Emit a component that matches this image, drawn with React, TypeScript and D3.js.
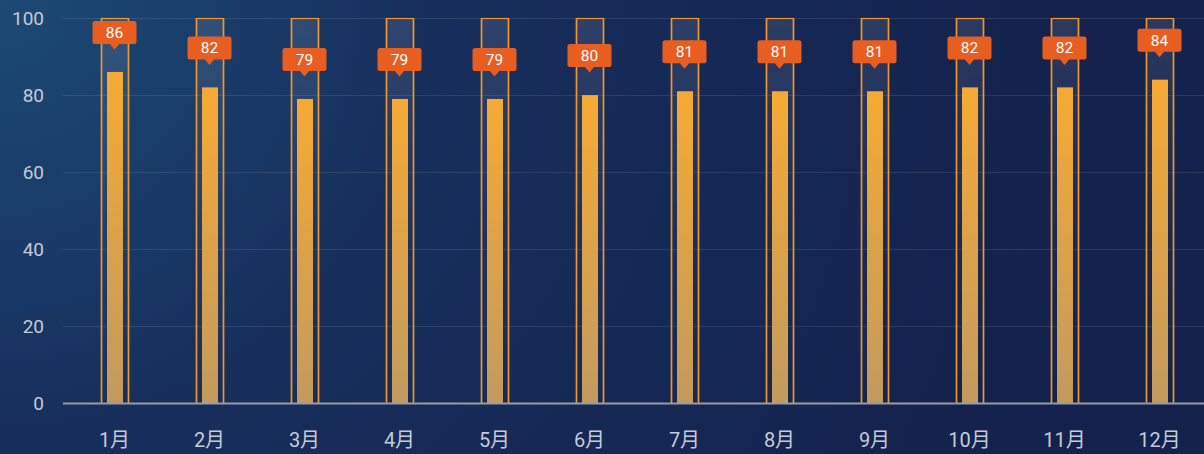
import React from "react";
import * as d3 from "d3";

const months = ["1月", "2月", "3月", "4月", "5月", "6月", "7月", "8月", "9月", "10月", "11月", "12月"];
const values = [86, 82, 79, 79, 79, 80, 81, 81, 81, 82, 82, 84];
const maxValues = [100, 100, 100, 100, 100, 100, 100, 100, 100, 100, 100, 100];
const yTicks = [0, 20, 40, 60, 80, 100];

const W = 1204;
const H = 454;

export default function App() {
  const x = d3.scaleBand<string>().domain(months).range([67, 1207]);
  const y = d3.scaleLinear().domain([0, 100]).range([403.5, 18]);
  const bw = x.bandwidth();
  const font = "Roboto, 'Noto Sans CJK SC', sans-serif";
  return (
    <svg width={W} height={H} style={{ position: "absolute", left: 0, top: 0, display: "block" }}>
      <defs>
        <radialGradient id="bg" cx="0" cy="0" r="1.2" gradientUnits="objectBoundingBox" gradientTransform="scale(1,2.65)">
          <stop offset="0" stopColor="#1c4a75" />
          <stop offset="0.3" stopColor="#172e5c" />
          <stop offset="0.7" stopColor="#14234e" />
          <stop offset="1" stopColor="#13214a" />
        </radialGradient>
        <linearGradient id="barG" x1="0" y1="0" x2="0" y2="1">
          <stop offset="0" stopColor="#f6aa34" />
          <stop offset="1" stopColor="#c29a5e" />
        </linearGradient>
        <linearGradient id="boxG" x1="0" y1="0" x2="0" y2="1">
          <stop offset="0" stopColor="#ffffff" stopOpacity={0.1} />
          <stop offset="0.6" stopColor="#ffffff" stopOpacity={0.02} />
          <stop offset="1" stopColor="#ffffff" stopOpacity={0} />
        </linearGradient>
      </defs>
      <rect x={0} y={0} width={W} height={H} fill="url(#bg)" />
      {yTicks.slice(1).map((t) => (
        <line key={t} x1={63} x2={W} y1={Math.round(y(t)) + 0.5} y2={Math.round(y(t)) + 0.5} stroke="#ffffff" strokeOpacity={0.1} strokeWidth={1} />
      ))}
      {yTicks.map((t) => (
        <text key={t} x={44} y={y(t)} dy="0.35em" textAnchor="end" fill="#c5cad6" fontSize={19} fontFamily={font}>
          {t}
        </text>
      ))}
      {months.map((m, i) => {
        const cx = (x(m) as number) + bw / 2;
        const boxW = 28;
        const barW = 16;
        const top = y(values[i]);
        const tipY = top - 22.5;
        const lw = 44;
        const lh = 23;
        const ly = tipY - 5.5 - lh;
        const bx = Math.round(cx - boxW / 2);
        const by = Math.round(y(maxValues[i]));
        const barX = Math.round(cx - barW / 2);
        return (
          <g key={m}>
            <rect x={bx} y={by} width={boxW} height={Math.round(y(0)) - by} fill="url(#boxG)" />
            <line x1={bx + 0.5} x2={bx + 0.5} y1={by} y2={y(0)} stroke="#f0962a" strokeWidth={1.7} />
            <line x1={bx + boxW - 0.5} x2={bx + boxW - 0.5} y1={by} y2={y(0)} stroke="#f0962a" strokeWidth={1.7} />
            <line x1={bx} x2={bx + boxW} y1={by + 0.5} y2={by + 0.5} stroke="#f0962a" strokeWidth={1.2} />
            <rect x={barX} y={top} width={barW} height={y(0) - top} fill="url(#barG)" />
            <rect x={cx - lw / 2} y={ly} width={lw} height={lh} rx={2.5} fill="#e85e20" />
            <path d={`M${cx - 5},${ly + lh - 0.5} L${cx + 5},${ly + lh - 0.5} L${cx},${tipY} Z`} fill="#e85e20" />
            <text x={cx} y={ly + lh / 2} dy="0.36em" textAnchor="middle" fill="#ffffff" fontSize={15.5} fontFamily={font}>
              {values[i]}
            </text>
            <text x={cx} y={440} dy="0.36em" textAnchor="middle" fill="#c5cad6" fontSize={20} fontFamily={font}>
              {m}
            </text>
          </g>
        );
      })}
      <line x1={63} x2={W} y1={403.5} y2={403.5} stroke="#9a9ca4" strokeWidth={2} />
    </svg>
  );
}
